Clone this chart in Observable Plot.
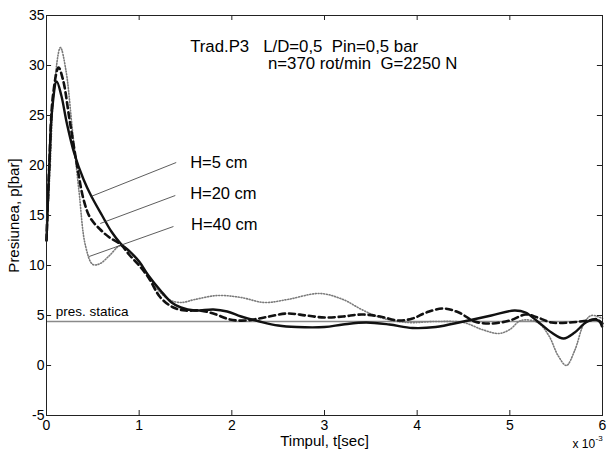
<!DOCTYPE html>
<html>
<head>
<meta charset="utf-8">
<script src="https://cdn.jsdelivr.net/npm/d3@7"></script>
<script src="https://cdn.jsdelivr.net/npm/@observablehq/plot@0.6"></script>
<style>
  html, body { margin: 0; padding: 0; background: #fff; }
  svg { font-family: "Liberation Sans", Arial, Helvetica, sans-serif; }
</style>
</head>
<body>
<div id="chart"></div>
<script>
// ---- data (time ×10^-3 s, pressure in bar) ----
const t5  = [0, 0.03, 0.06, 0.11, 0.16, 0.22, 0.3, 0.4, 0.48, 0.6, 0.7, 0.8, 0.9, 1.0, 1.1, 1.23, 1.35, 1.45, 1.6, 1.8, 1.95, 2.1, 2.3, 2.5, 2.7, 3.0, 3.2, 3.45, 3.7, 3.95, 4.2, 4.5, 4.8, 5.05, 5.17, 5.3, 5.45, 5.58, 5.7, 5.82, 5.92, 6.0];
const p5  = [12.5, 20, 25.5, 28.4, 27, 24.2, 21.2, 18.6, 17.0, 15.0, 13.4, 12.2, 11.4, 10.4, 9.0, 7.5, 6.3, 5.8, 5.5, 5.6, 5.4, 4.9, 4.4, 4.0, 3.85, 3.85, 4.1, 4.3, 4.1, 3.75, 3.85, 4.4, 5.0, 5.5, 5.3, 4.4, 3.3, 2.7, 3.3, 4.3, 4.6, 4.2];
const t20 = [0, 0.03, 0.07, 0.13, 0.18, 0.25, 0.33, 0.4, 0.47, 0.58, 0.68, 0.8, 0.9, 1.0, 1.1, 1.23, 1.37, 1.5, 1.65, 1.8, 1.98, 2.15, 2.35, 2.6, 2.8, 3.0, 3.2, 3.4, 3.6, 3.8, 3.95, 4.1, 4.28, 4.45, 4.62, 4.8, 5.0, 5.17, 5.3, 5.45, 5.65, 5.85, 5.95, 6.0];
const p20 = [12.5, 20, 27, 29.8, 28.5, 24.5, 20, 16.6, 14.8, 13.6, 12.8, 12.1, 11, 10, 8.8, 6.8, 5.8, 5.5, 5.5, 5.2, 4.6, 4.5, 4.8, 5.2, 5.0, 4.8, 4.9, 5.1, 4.9, 4.5, 4.7, 5.3, 5.7, 5.3, 4.4, 4.2, 4.5, 5.1, 4.8, 4.3, 4.3, 4.5, 4.6, 3.8];
const t40 = [0, 0.04, 0.08, 0.15, 0.21, 0.28, 0.35, 0.42, 0.5, 0.58, 0.68, 0.8, 0.9, 1.0, 1.1, 1.2, 1.32, 1.45, 1.6, 1.85, 2.1, 2.35, 2.6, 2.95, 3.2, 3.4, 3.6, 3.9, 4.2, 4.5, 4.7, 4.88, 5.0, 5.12, 5.3, 5.42, 5.52, 5.61, 5.7, 5.8, 5.88, 6.0];
const p40 = [12.5, 20, 27.5, 31.8, 29.5, 23.5, 17.5, 12, 10.1, 10.2, 11, 12, 11.3, 10.3, 9, 7.6, 6.6, 6.3, 6.6, 7.0, 6.8, 6.3, 6.6, 7.2, 6.6, 5.6, 4.8, 4.3, 4.4, 4.3, 3.6, 3.2, 3.6, 4.5, 4.3, 3.0, 1.0, 0.0, 1.5, 4.2, 5.0, 4.7];
const presStatica = 4.4;

const xTicks = [0, 1, 2, 3, 4, 5, 6];
const yTicks = [-5, 0, 5, 10, 15, 20, 25, 30, 35];

const titleLines = ["Trad.P3\u00a0\u00a0\u00a0L/D=0,5\u00a0\u00a0Pin=0,5 bar", "n=370 rot/min\u00a0\u00a0G=2250 N"];
const titleX = [1.55, 2.39];
const titleY = [31.9, 30.2];

const hLabels = ["H=5 cm", "H=20 cm", "H=40 cm"];
const hLabelX = [1.55, 1.55, 1.56];
const hLabelY = [20.3, 17.2, 14.1];
// leader lines: from label to curve
const leadX1 = [1.40, 1.39, 1.37];
const leadY1 = [20.3, 17.0, 13.9];
const leadX2 = [0.48, 0.58, 0.46];
const leadY2 = [16.9, 14.2, 10.9];

const toPts = (t, p) => t.map((x, i) => ({x, y: p[i]}));
const s5 = toPts(t5, p5), s20 = toPts(t20, p20), s40 = toPts(t40, p40);
const leaders = hLabels.map((h, i) => ({x1: leadX1[i], y1: leadY1[i], x2: leadX2[i], y2: leadY2[i]}));
const hl = hLabels.map((h, i) => ({text: h, x: hLabelX[i], y: hLabelY[i]}));
const tl = titleLines.map((h, i) => ({text: h, x: titleX[i], y: titleY[i]}));

const font = "Liberation Sans, Arial, Helvetica, sans-serif";

const chart = Plot.plot({
  width: 607,
  height: 452,
  marginLeft: 46,
  marginRight: 5,
  marginTop: 15,
  marginBottom: 37,
  style: {fontFamily: font, background: "#fff", color: "#000"},
  x: {domain: [0, 6]},
  y: {domain: [-5, 35]},
  marks: [
    // static pressure line
    Plot.ruleY([presStatica], {x1: 0, x2: 6, stroke: "#8a8a8a", strokeWidth: 1.6}),
    // curves
    Plot.line(s40, {x: "x", y: "y", curve: "catmull-rom", stroke: "#7a7a7a", strokeWidth: 1.6, strokeDasharray: "1,1.8"}),
    Plot.line(s20, {x: "x", y: "y", curve: "catmull-rom", stroke: "#111", strokeWidth: 2.6, strokeDasharray: "6,4"}),
    Plot.line(s5, {x: "x", y: "y", curve: "catmull-rom", stroke: "#111", strokeWidth: 2.4}),
    // leader lines
    Plot.link(leaders, {x1: "x1", y1: "y1", x2: "x2", y2: "y2", stroke: "#333", strokeWidth: 0.8}),
    // labels
    Plot.text(hl, {x: "x", y: "y", text: "text", textAnchor: "start", fontSize: 16.5, fill: "#000"}),
    Plot.text(tl, {x: "x", y: "y", text: "text", textAnchor: "start", fontSize: 16.8, fill: "#000"}),
    Plot.text(["pres. statica"], {x: 0.1, y: 5.4, text: d => d, textAnchor: "start", fontSize: 13.5, fill: "#000"}),
    // frame
    Plot.frame({stroke: "#222", strokeWidth: 1}),
    // inward ticks
    Plot.ruleX(xTicks, {x: d => d, y1: -5, y2: -4.5, stroke: "#222"}),
    Plot.ruleX(xTicks, {x: d => d, y1: 35, y2: 34.5, stroke: "#222"}),
    Plot.ruleY(yTicks, {y: d => d, x1: 0, x2: 0.055, stroke: "#222"}),
    Plot.ruleY(yTicks, {y: d => d, x1: 5.945, x2: 6, stroke: "#222"}),
    // axes (labels only)
    Plot.axisX(xTicks, {tickSize: 0, tickPadding: 5, fontSize: 14, label: null, tickFormat: d => String(d)}),
    Plot.axisY(yTicks, {tickSize: 0, tickPadding: 2, fontSize: 14, label: null, tickFormat: d => String(d)}),
    // axis titles
    Plot.text(["Timpul, t[sec]"], {frameAnchor: "bottom", dy: 26, text: d => d, fontSize: 15, lineAnchor: "middle", fill: "#000"}),
    Plot.text(["Presiunea, p[bar]"], {frameAnchor: "left", dx: -32, rotate: -90, textAnchor: "middle", lineAnchor: "middle", text: d => d, fontSize: 15, fill: "#000"}),
    Plot.text(["x 10"], {frameAnchor: "bottom-right", dx: -30, dy: 29, text: d => d, fontSize: 12, textAnchor: "start", lineAnchor: "middle", fill: "#000"}),
    Plot.text(["-3"], {frameAnchor: "bottom-right", dx: -7, dy: 23, text: d => d, fontSize: 8, textAnchor: "start", lineAnchor: "middle", fill: "#000"})
  ]
});
document.getElementById("chart").appendChild(chart);
</script>
</body>
</html>
